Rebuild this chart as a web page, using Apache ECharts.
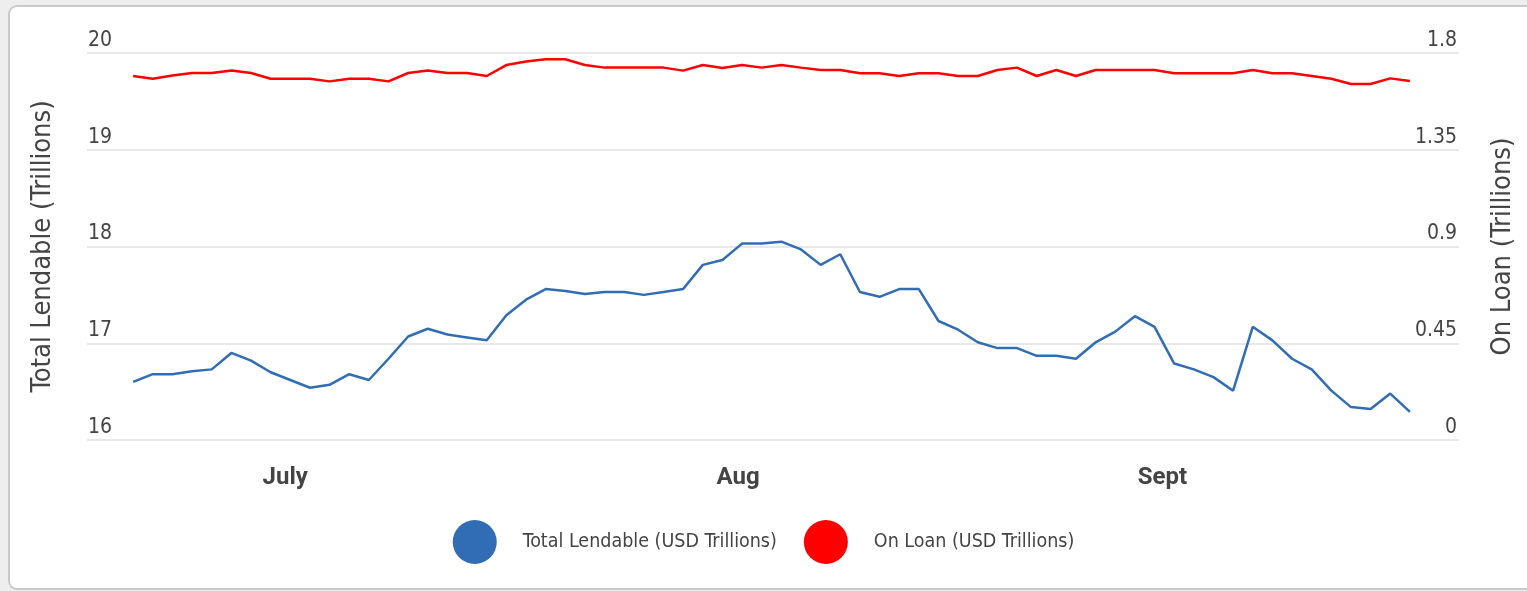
<!DOCTYPE html>
<html>
<head>
<meta charset="utf-8">
<script src="https://cdn.jsdelivr.net/npm/echarts@6/dist/echarts.min.js"></script>
<style>
html,body{margin:0;padding:0;background:#eeeeee;}
#c{width:1527px;height:591px;}
</style>
</head>
<body>
<div id="c"></div>
<script>
// ---- data ----
var totalLendable = [16.60,16.68,16.68,16.71,16.73,16.90,16.82,16.70,16.62,16.54,16.57,16.68,16.62,16.84,17.07,17.15,17.09,17.06,17.03,17.29,17.45,17.56,17.54,17.51,17.53,17.53,17.50,17.53,17.56,17.81,17.86,18.03,18.03,18.05,17.97,17.81,17.92,17.53,17.48,17.56,17.56,17.23,17.14,17.01,16.95,16.95,16.87,16.87,16.84,17.01,17.12,17.28,17.17,16.79,16.73,16.65,16.51,17.17,17.03,16.84,16.73,16.51,16.34,16.32,16.48,16.29];
var onLoan = [1.693,1.680,1.695,1.707,1.707,1.719,1.707,1.680,1.680,1.680,1.668,1.680,1.680,1.668,1.707,1.719,1.707,1.707,1.693,1.744,1.760,1.771,1.771,1.744,1.732,1.732,1.732,1.732,1.718,1.744,1.730,1.744,1.732,1.744,1.732,1.721,1.721,1.706,1.706,1.693,1.706,1.706,1.693,1.693,1.721,1.732,1.693,1.721,1.693,1.721,1.721,1.721,1.721,1.706,1.706,1.706,1.706,1.721,1.706,1.706,1.693,1.680,1.656,1.656,1.682,1.670];
var monthLabels = ['July','Aug','Sept'];
var monthPos = [7.74, 30.8, 52.4];
var leftTicks = {min:16, max:20, interval:1};
var rightTicks = {min:0, max:1.8, interval:0.45};
var seriesNames = ['Total Lendable (USD Trillions)','On Loan (USD Trillions)'];
var axisNames = ['Total Lendable (Trillions)','On Loan (Trillions)'];

var narrow = '"Liberation Sans Narrow","DejaVu Sans Condensed","Roboto",sans-serif';
var chart = echarts.init(document.getElementById('c'));
function pairs(arr){ return arr.map(function(v,i){return [i,v];}); }
var option = {
  backgroundColor: 'transparent',
  animation: false,
  graphic: [{
    type:'rect', left: 8, top: 5, z: -10, silent: true,
    shape:{width:1540, height:583, r:8},
    style:{fill:'#ffffff', stroke:'#c9c9c9', lineWidth:2}
  }],
  grid: {left: 87, right: 68, top: 53, bottom: 151, containLabel: false, outerBoundsMode: 'none'},
  legend: {
    bottom: 22, left: 'center',
    icon: 'circle', itemWidth: 44, itemHeight: 44, itemGap: 27,
    textStyle: {fontFamily: narrow, fontSize: 19.5, color: '#444', padding:[0,0,0,21]},
    data: seriesNames
  },
  xAxis: {
    type: 'value', min: -2.35, max: 67.5,
    axisLine: {show:false}, axisTick:{show:false}, splitLine:{show:false},
    axisLabel: {
      customValues: monthPos,
      margin: 26,
      fontFamily: 'Roboto', fontWeight: 'bold', fontSize: 24, color: '#444',
      formatter: function(v){
        for (var i=0;i<monthPos.length;i++){ if (Math.abs(monthPos[i]-v)<1e-6) return monthLabels[i]; }
        return '';
      }
    }
  },
  yAxis: [{
    type: 'value', min: leftTicks.min, max: leftTicks.max, interval: leftTicks.interval,
    position: 'left',
    name: axisNames[0], nameLocation: 'middle', nameGap: 31, nameRotate: 90,
    nameTextStyle: {fontFamily: narrow, fontSize: 27, color: '#444'},
    axisLine:{show:false}, axisTick:{show:false},
    splitLine:{lineStyle:{color:'#e8e8e8', width:2}},
    axisLabel: {inside: true, margin: 1, align:'left', verticalAlign:'bottom', padding:[0,0,2,0],
      fontFamily: narrow, fontSize: 21, color:'#444'}
  },{
    type: 'value', min: rightTicks.min, max: rightTicks.max, interval: rightTicks.interval,
    position: 'right',
    name: axisNames[1], nameLocation: 'middle', nameGap: 30, nameRotate: 90,
    nameTextStyle: {fontFamily: narrow, fontSize: 27, color: '#444'},
    axisLine:{show:false}, axisTick:{show:false},
    splitLine:{show:false},
    axisLabel: {inside: true, margin: 2, align:'right', verticalAlign:'bottom', padding:[0,0,2,0],
      fontFamily: narrow, fontSize: 21, color:'#444'}
  }],
  series: [{
    name: seriesNames[0], type: 'line', yAxisIndex: 0,
    data: pairs(totalLendable), showSymbol: false, symbol:'none',
    lineStyle: {color:'#306db5', width: 2.5}, itemStyle:{color:'#306db5'}
  },{
    name: seriesNames[1], type: 'line', yAxisIndex: 1,
    data: pairs(onLoan), showSymbol: false, symbol:'none',
    lineStyle: {color:'#ff0000', width: 2.5}, itemStyle:{color:'#ff0000'}
  }]
};
chart.setOption(option);
</script>
</body>
</html>
